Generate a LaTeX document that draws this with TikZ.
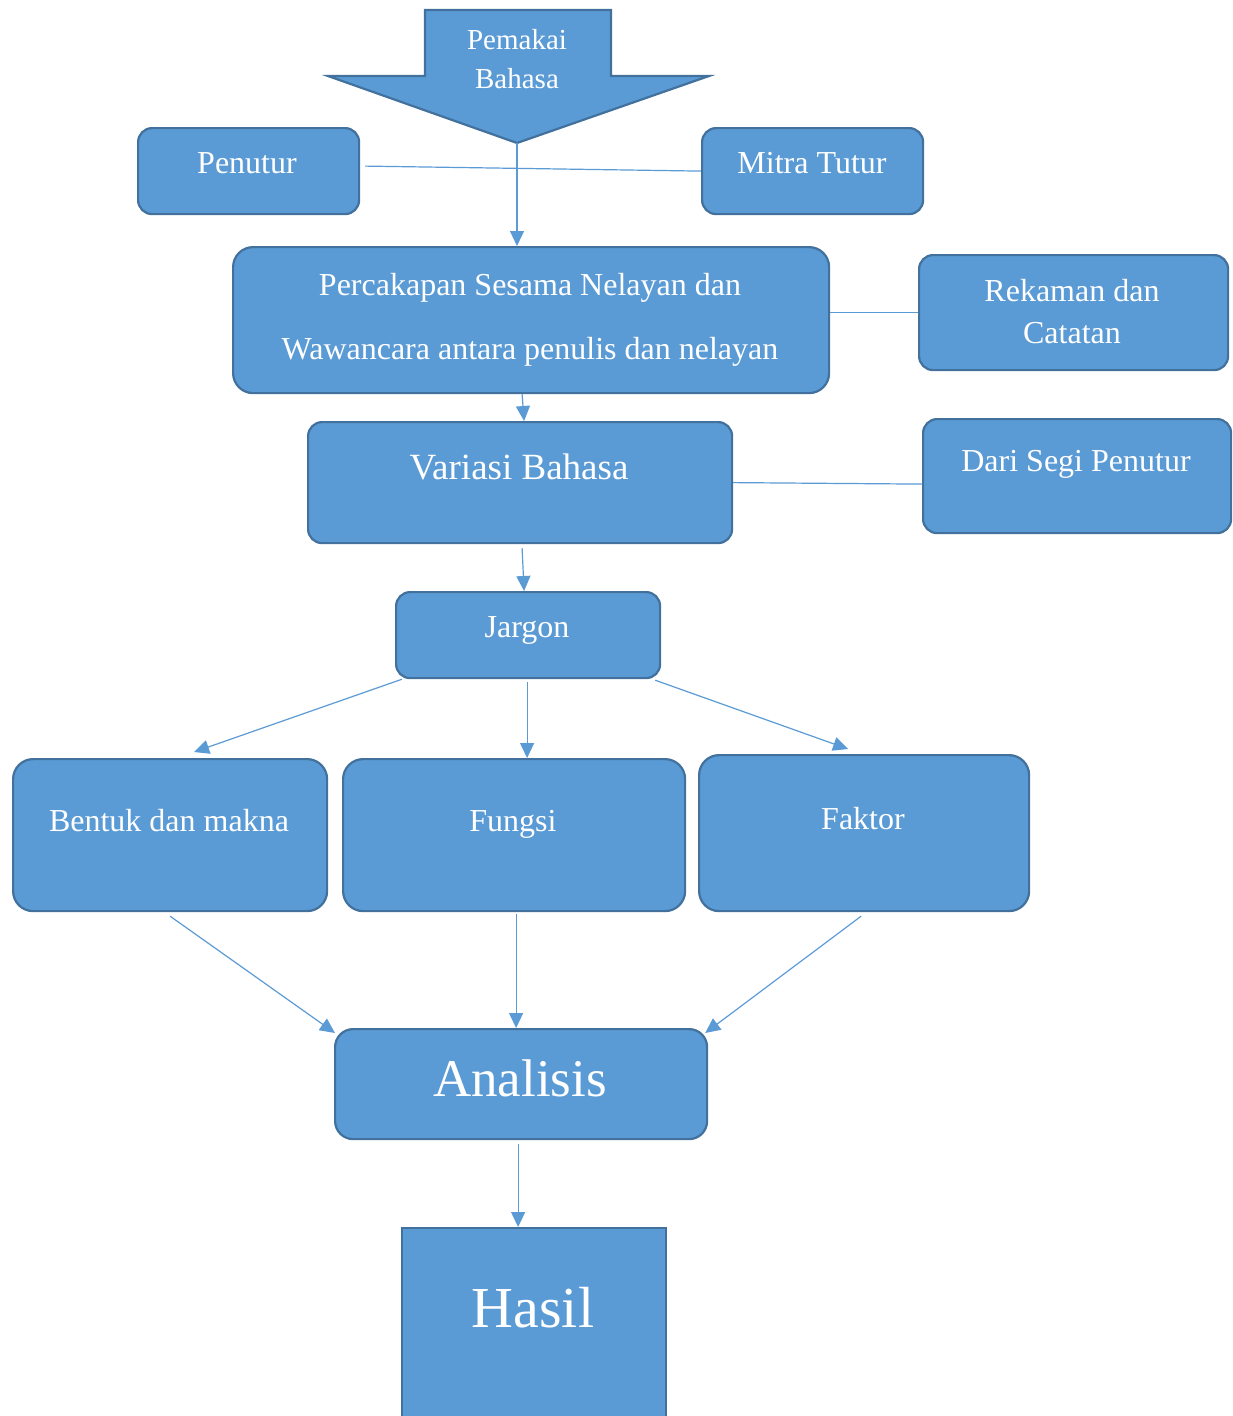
\documentclass[tikz,border=0pt]{standalone}
\usepackage{fontspec}
\setmainfont{Liberation Serif}
\usetikzlibrary{arrows.meta,calc}
\definecolor{boxfill}{HTML}{5B9BD5}
\definecolor{boxline}{HTML}{41719C}
\definecolor{connc}{HTML}{5B9BD5}
\begin{document}
\begin{tikzpicture}[x=1pt,y=-1pt,
  box/.style={draw=boxline, fill=boxfill, line width=2.2pt, rounded corners=14pt, anchor=north west, inner sep=0pt},
  lbl/.style={text=white, font=\fontsize{32}{40}\selectfont, align=center, inner sep=0pt, anchor=base},
  conn/.style={draw=connc, line width=1.2pt},
  arr/.style={conn, -{Triangle[length=15pt,width=14pt]}}]
\clip (0,0) rectangle (1232,1416);
\fill[white] (0,0) rectangle (1232,1416);
% big arrow
\draw[draw=boxline, fill=boxfill, line width=2.2pt, line join=miter]
  (425,10) -- (611,10) -- (611,76) -- (709,76) -- (517,143) -- (328,76) -- (425,76) -- cycle;
\coordinate (tip) at (517,143);
\node[lbl, anchor=center, font=\fontsize{29}{39}\selectfont] (pb) at (517,59.5) {Pemakai\\Bahasa};
% boxes
\node[box, minimum width=221pt, minimum height=86pt] (pen) at (137,127) {};
\node[box, minimum width=221pt, minimum height=86pt] (mit) at (701,127) {};
\node[box, minimum width=596pt, minimum height=146pt, rounded corners=20pt] (perc) at (232,246) {};
\node[box, minimum width=309pt, minimum height=115pt] (rek) at (918,254) {};
\node[box, minimum width=424pt, minimum height=121pt] (var) at (307,421) {};
\node[box, minimum width=308pt, minimum height=114pt] (dari) at (922,418) {};
\node[box, minimum width=264pt, minimum height=86pt] (jar) at (395,591) {};
\node[box, minimum width=314pt, minimum height=152pt, rounded corners=20pt] (ben) at (12,758) {};
\node[box, minimum width=342pt, minimum height=152pt, rounded corners=20pt] (fun) at (342,758) {};
\node[box, minimum width=330pt, minimum height=156pt, rounded corners=20pt] (fak) at (698,754) {};
\node[box, minimum width=372pt, minimum height=110pt, rounded corners=18pt] (ana) at (334,1028) {};
\node[box, minimum width=264pt, minimum height=230pt, rounded corners=0pt] (has) at (401,1227) {};
% labels
\node[lbl] (tpen) at (247,173) {Penutur};
\node[lbl] (tmit) at (812,173) {Mitra Tutur};
\node[lbl, anchor=center, font=\fontsize{32}{64}\selectfont] (tperc) at (530,319.5) {Percakapan Sesama Nelayan dan\\Wawancara antara penulis dan nelayan};
\node[lbl, anchor=center, font=\fontsize{32}{42}\selectfont] (trek) at (1072,312) {Rekaman dan\\Catatan};
\node[lbl, font=\fontsize{37}{44}\selectfont] (tvar) at (519,479) {Variasi Bahasa};
\node[lbl] (tdari) at (1076,471) {Dari Segi Penutur};
\node[lbl] (tjar) at (527,637.5) {Jargon};
\node[lbl] (tben) at (169,831) {Bentuk dan makna};
\node[lbl] (tfun) at (513,831) {Fungsi};
\node[lbl] (tfak) at (863,829) {Faktor};
\node[lbl, font=\fontsize{53}{60}\selectfont] (tana) at (520,1096) {Analisis};
\node[lbl, font=\fontsize{58}{66}\selectfont] (thas) at (533,1327.5) {Hasil};
% connectors
\draw[conn] ($(pen.east)+(5,-5)$) -- (mit.west);
\draw[arr] (tip) -- (tip |- perc.north);
\draw[conn] (perc.east |- rek.west) -- (rek.west);
\draw[arr] ($(perc.south)+(-9,0)$) -- ($(var.north)+(4,0)$);
\draw[conn] (var.east) -- ($(dari.west)+(0,8)$);
\draw[arr] ($(var.south)+(2,4)$) -- ($(jar.north)+(-4,0)$);
\draw[arr] ($(jar.south west)+(7,0)$) -- ($(ben.north)+(24,-6)$);
\draw[arr] ($(jar.south)+(-1,3)$) -- ($(fun.north)+(13,0)$);
\draw[arr] ($(jar.south east)+(-6,1)$) -- ($(fak.north)+(-16,-5)$);
\draw[arr] ($(ben.south)+(0,4)$) -- ($(ana.north west)+(1,5)$);
\draw[arr] ($(fun.south)+(2,2)$) -- ($(ana.north)+(-5,0)$);
\draw[arr] ($(fak.south)+(-3,4)$) -- ($(ana.north east)+(-3,5)$);
\draw[arr] ($(ana.south)+(-3,4)$) -- ($(has.north)+(-16,0)$);
\end{tikzpicture}
\end{document}
